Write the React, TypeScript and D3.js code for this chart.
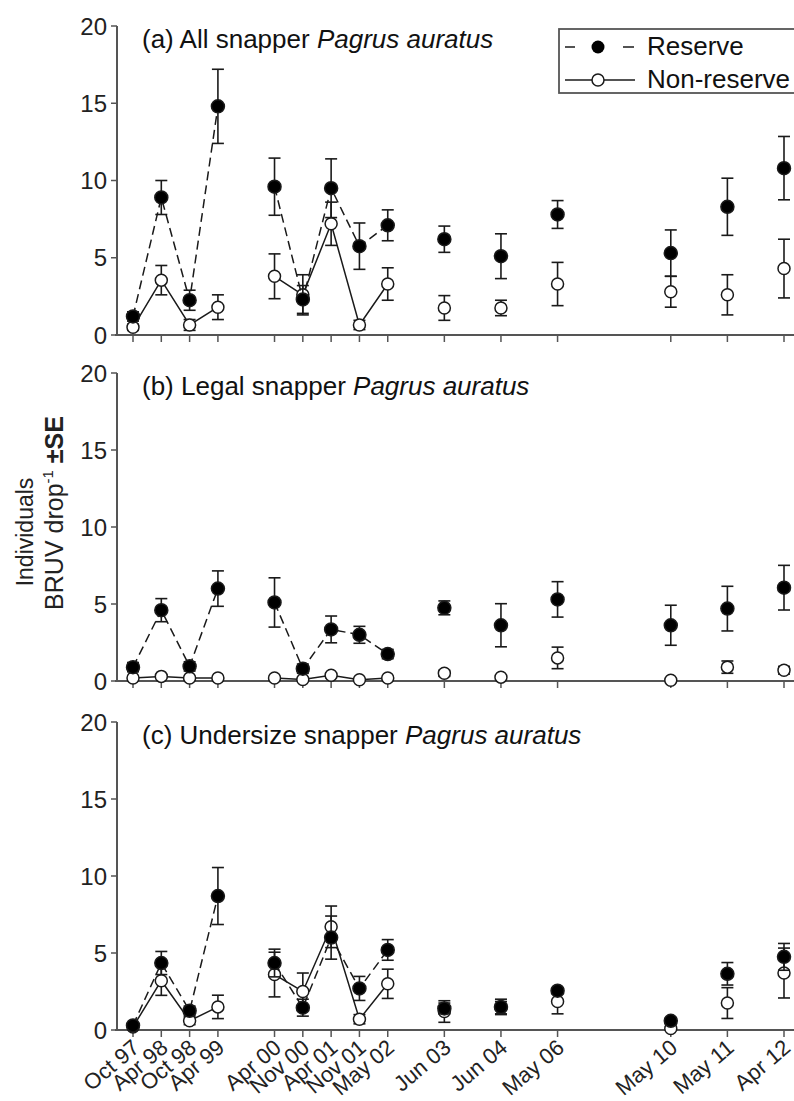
import React from "react";
import * as d3 from "d3";

const categories = ["Oct 97", "Apr 98", "Oct 98", "Apr 99", "Apr 00", "Nov 00", "Apr 01", "Nov 01", "May 02", "Jun 03", "Jun 04", "May 06", "May 10", "May 11", "Apr 12"];
// half-year slot of each survey on the time axis
const surveySlot = [0, 1, 2, 3, 5, 6, 7, 8, 9, 11, 13, 15, 19, 21, 23];
// consecutive surveys joined by lines (0 = not joined)
const surveyGroup = [1, 1, 1, 1, 2, 2, 2, 2, 2, 0, 0, 0, 0, 0, 0];
const yTicks = [0, 5, 10, 15, 20];

const allReserve = [1.2, 8.9, 2.25, 14.8, 9.6, 2.3, 9.5, 5.75, 7.1, 6.2, 5.1, 7.8, 5.3, 8.3, 10.8];
const allReserveSE = [0.3, 1.1, 0.65, 2.4, 1.85, 0.9, 1.9, 1.5, 1.0, 0.85, 1.45, 0.9, 1.5, 1.85, 2.05];
const allNonReserve = [0.5, 3.55, 0.65, 1.8, 3.8, 2.6, 7.2, 0.65, 3.3, 1.75, 1.75, 3.3, 2.8, 2.6, 4.3];
const allNonReserveSE = [0.2, 0.95, 0.35, 0.8, 1.45, 1.3, 1.4, 0.3, 1.05, 0.8, 0.5, 1.4, 1.0, 1.3, 1.9];

const legalReserve = [0.9, 4.6, 0.95, 6.0, 5.1, 0.8, 3.35, 3.0, 1.75, 4.75, 3.62, 5.3, 3.62, 4.7, 6.06];
const legalReserveSE = [0.3, 0.75, 0.3, 1.15, 1.6, 0.3, 0.87, 0.55, 0.3, 0.45, 1.4, 1.15, 1.3, 1.45, 1.45];
const legalNonReserve = [0.2, 0.3, 0.2, 0.2, 0.2, 0.1, 0.37, 0.08, 0.2, 0.5, 0.25, 1.5, 0.05, 0.9, 0.7];
const legalNonReserveSE = [0.1, 0.1, 0.1, 0.1, 0.1, 0.05, 0.15, 0.05, 0.1, 0.2, 0.1, 0.7, 0.05, 0.4, 0.25];

const underReserve = [0.3, 4.35, 1.25, 8.7, 4.35, 1.45, 6.0, 2.7, 5.2, 1.4, 1.5, 2.55, 0.6, 3.65, 4.75];
const underReserveSE = [0.15, 0.75, 0.3, 1.85, 0.9, 0.55, 1.4, 0.78, 0.67, 0.35, 0.5, 0.2, 0.2, 0.73, 0.87];
const underNonReserve = [0.2, 3.2, 0.6, 1.5, 3.6, 2.5, 6.7, 0.7, 3.0, 1.2, 1.45, 1.85, 0.1, 1.75, 3.7];
const underNonReserveSE = [0.1, 0.95, 0.25, 0.76, 1.45, 1.2, 1.35, 0.3, 0.95, 0.7, 0.4, 0.8, 0.1, 1.0, 1.62];

const FONT = "'Liberation Sans', Arial, sans-serif";
const INK = "#1a1a1a";
const AXIS = "#555";

const x = d3.scaleLinear().domain([0, 23]).range([133, 784]);

type PanelProps = {
  label: string;
  top: number;
  bottom: number;
  reserve: number[];
  reserveSE: number[];
  non: number[];
  nonSE: number[];
  xLabels?: boolean;
};

function Series({ vals, se, y, filled }: { vals: number[]; se: number[]; y: d3.ScaleLinear<number, number>; filled: boolean }) {
  const line = d3.line<number>().x((i) => x(surveySlot[i])).y((i) => y(vals[i]));
  const groups = [1, 2].map((g) => surveyGroup.map((s, i) => (s === g ? i : -1)).filter((i) => i >= 0));
  return (
    <g>
      {vals.map((v, i) => {
        const cx = x(surveySlot[i]);
        const hi = y(v + se[i]);
        const lo = y(Math.max(0, v - se[i]));
        return (
          <g key={"e" + i} stroke={INK} strokeWidth={1.6}>
            <line x1={cx} x2={cx} y1={hi} y2={lo} />
            <line x1={cx - 6} x2={cx + 6} y1={hi} y2={hi} />
            <line x1={cx - 6} x2={cx + 6} y1={lo} y2={lo} />
          </g>
        );
      })}
      {groups.map((idx, k) => (
        <path key={"l" + k} d={line(idx) || ""} fill="none" stroke={INK} strokeWidth={1.5} strokeDasharray={filled ? "9,5" : undefined} />
      ))}
      {vals.map((v, i) => (
        <circle key={"c" + i} cx={x(surveySlot[i])} cy={y(v)} r={filled ? 6.5 : 6} fill={filled ? "#000" : "#fff"} stroke={INK} strokeWidth={1.5} />
      ))}
    </g>
  );
}

function Panel({ label, top, bottom, reserve, reserveSE, non, nonSE, xLabels }: PanelProps) {
  const y = d3.scaleLinear().domain([0, 20]).range([bottom, top]);
  return (
    <g>
      <line x1={117} x2={117} y1={y(20)} y2={y(0)} stroke={AXIS} strokeWidth={2} />
      <line x1={115} x2={794} y1={y(0)} y2={y(0)} stroke={AXIS} strokeWidth={2} />
      {yTicks.map((t) => (
        <g key={t}>
          <line x1={111} x2={117} y1={y(t)} y2={y(t)} stroke={AXIS} strokeWidth={1.5} />
          <text x={107} y={y(t)} dy="0.36em" textAnchor="end" fontSize={24} fill="#222" fontFamily={FONT}>{t}</text>
        </g>
      ))}
      {surveySlot.map((s, i) => (
        <line key={i} x1={x(s)} x2={x(s)} y1={y(0)} y2={y(0) + 7} stroke={AXIS} strokeWidth={1.5} />
      ))}
      {xLabels &&
        categories.map((c, i) => (
          <text key={c} transform={`translate(${x(surveySlot[i]) + 8},${y(0) + 20}) rotate(-40)`} textAnchor="end" fontSize={22} fill="#222" fontFamily={FONT}>{c}</text>
        ))}
      <text x={142} y={top + 22} fontSize={26} fill="#111" fontFamily={FONT}>
        {label} <tspan fontStyle="italic">Pagrus auratus</tspan>
      </text>
      <Series vals={non} se={nonSE} y={y} filled={false} />
      <Series vals={reserve} se={reserveSE} y={y} filled={true} />
    </g>
  );
}

export default function App() {
  return (
    <svg width={794} height={1101} style={{ position: "absolute", left: 0, top: 0, background: "#fff" }} fontFamily={FONT}>
      <rect x={0} y={0} width={794} height={1101} fill="#fff" />
      <Panel label="(a) All snapper" top={26} bottom={335} reserve={allReserve} reserveSE={allReserveSE} non={allNonReserve} nonSE={allNonReserveSE} />
      <Panel label="(b) Legal snapper" top={373} bottom={681} reserve={legalReserve} reserveSE={legalReserveSE} non={legalNonReserve} nonSE={legalNonReserveSE} />
      <Panel label="(c) Undersize snapper" top={722} bottom={1030} reserve={underReserve} reserveSE={underReserveSE} non={underNonReserve} nonSE={underNonReserveSE} xLabels />
      {/* legend */}
      <g>
        <rect x={559} y={29} width={260} height={64} fill="#fff" stroke={AXIS} strokeWidth={1.8} />
        <line x1={565} x2={575} y1={47} y2={47} stroke={INK} strokeWidth={1.5} />
        <line x1={623} x2={634} y1={47} y2={47} stroke={INK} strokeWidth={1.5} />
        <circle cx={598} cy={47} r={6.5} fill="#000" />
        <text x={647} y={55} fontSize={26} fill="#111" fontFamily={FONT}>Reserve</text>
        <line x1={565} x2={635} y1={80} y2={80} stroke={INK} strokeWidth={1.5} />
        <circle cx={598} cy={80} r={6} fill="#fff" stroke={INK} strokeWidth={1.5} />
        <text x={647} y={88} fontSize={26} fill="#111" fontFamily={FONT}>Non-reserve</text>
      </g>
      {/* y-axis title */}
      <text transform="translate(33,532) rotate(-90)" textAnchor="middle" fontSize={23} fill="#222" fontFamily={FONT}>Individuals</text>
      <text transform="translate(63,513) rotate(-90)" textAnchor="middle" fontSize={25} fill="#222" fontFamily={FONT}>
        BRUV drop<tspan fontSize={15} dy={-10}>-1</tspan>
        <tspan dy={10} fontWeight="bold"> ±SE</tspan>
      </text>
    </svg>
  );
}
